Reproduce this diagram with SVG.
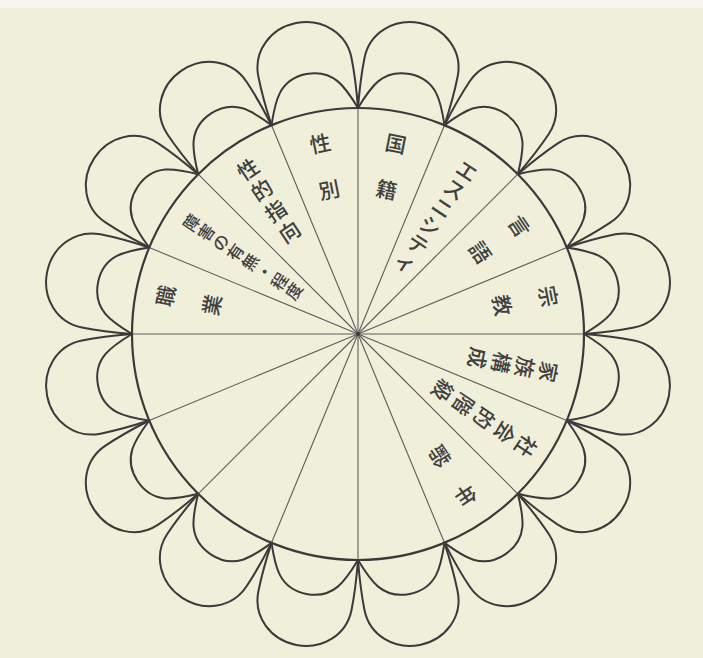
<svg xmlns="http://www.w3.org/2000/svg" xmlns:xlink="http://www.w3.org/1999/xlink" width="703" height="658" viewBox="0 0 703 658">
<style>
.pet{fill:none;stroke:#3a3a3a;stroke-width:2;stroke-linejoin:round}
.rim{fill:none;stroke:#3a3a3a;stroke-width:2.2}
.spk{stroke:#5c5c5c;stroke-width:1.1}
.lb{font-family:"Noto Sans CJK JP","Noto Sans CJK SC",sans-serif;font-size:21px;font-weight:500;fill:#404040;text-anchor:middle;dominant-baseline:central}
.sm{font-size:16.5px}
</style>
<defs>
<g id="petalShape">
<path class="pet" d="M-44.1 -221.7 C-46.5 -242 -47.5 -258 -47.5 -272 C-47.5 -298 -26 -317 0 -317 C26 -317 47.5 -298 47.5 -272 C47.5 -258 46.5 -242 44.1 -221.7"/>
<path class="pet" d="M-44.1 -221.7 C-36 -244 -28 -265 0 -265 C28 -265 36 -244 44.1 -221.7"/>
</g>
</defs>
<rect width="703" height="658" fill="#f0efda"/>
<rect width="703" height="8" fill="#f6f6ee"/>
<g id="petals">
<g id="petal-1" transform="translate(358 334) rotate(11.25)"><use xlink:href="#petalShape"/></g>
<g id="petal-2" transform="translate(358 334) rotate(33.75)"><use xlink:href="#petalShape"/></g>
<g id="petal-3" transform="translate(358 334) rotate(56.25)"><use xlink:href="#petalShape"/></g>
<g id="petal-4" transform="translate(358 334) rotate(78.75)"><use xlink:href="#petalShape"/></g>
<g id="petal-5" transform="translate(358 334) rotate(101.25)"><use xlink:href="#petalShape"/></g>
<g id="petal-6" transform="translate(358 334) rotate(123.75)"><use xlink:href="#petalShape"/></g>
<g id="petal-7" transform="translate(358 334) rotate(146.25)"><use xlink:href="#petalShape"/></g>
<g id="petal-8" transform="translate(358 334) rotate(168.75)"><use xlink:href="#petalShape"/></g>
<g id="petal-9" transform="translate(358 334) rotate(191.25)"><use xlink:href="#petalShape"/></g>
<g id="petal-10" transform="translate(358 334) rotate(213.75)"><use xlink:href="#petalShape"/></g>
<g id="petal-11" transform="translate(358 334) rotate(236.25)"><use xlink:href="#petalShape"/></g>
<g id="petal-12" transform="translate(358 334) rotate(258.75)"><use xlink:href="#petalShape"/></g>
<g id="petal-13" transform="translate(358 334) rotate(281.25)"><use xlink:href="#petalShape"/></g>
<g id="petal-14" transform="translate(358 334) rotate(303.75)"><use xlink:href="#petalShape"/></g>
<g id="petal-15" transform="translate(358 334) rotate(326.25)"><use xlink:href="#petalShape"/></g>
<g id="petal-16" transform="translate(358 334) rotate(348.75)"><use xlink:href="#petalShape"/></g>
</g>
<g id="connectors" transform="translate(358 334)">
<line class="spk" x1="0" y1="0" x2="0" y2="-226"/>
<line class="spk" x1="0" y1="0" x2="0" y2="-226" transform="rotate(22.5)"/>
<line class="spk" x1="0" y1="0" x2="0" y2="-226" transform="rotate(45)"/>
<line class="spk" x1="0" y1="0" x2="0" y2="-226" transform="rotate(67.5)"/>
<line class="spk" x1="0" y1="0" x2="0" y2="-226" transform="rotate(90)"/>
<line class="spk" x1="0" y1="0" x2="0" y2="-226" transform="rotate(112.5)"/>
<line class="spk" x1="0" y1="0" x2="0" y2="-226" transform="rotate(135)"/>
<line class="spk" x1="0" y1="0" x2="0" y2="-226" transform="rotate(157.5)"/>
<line class="spk" x1="0" y1="0" x2="0" y2="-226" transform="rotate(180)"/>
<line class="spk" x1="0" y1="0" x2="0" y2="-226" transform="rotate(202.5)"/>
<line class="spk" x1="0" y1="0" x2="0" y2="-226" transform="rotate(225)"/>
<line class="spk" x1="0" y1="0" x2="0" y2="-226" transform="rotate(247.5)"/>
<line class="spk" x1="0" y1="0" x2="0" y2="-226" transform="rotate(270)"/>
<line class="spk" x1="0" y1="0" x2="0" y2="-226" transform="rotate(292.5)"/>
<line class="spk" x1="0" y1="0" x2="0" y2="-226" transform="rotate(315)"/>
<line class="spk" x1="0" y1="0" x2="0" y2="-226" transform="rotate(337.5)"/>
<circle cx="0" cy="0" r="2" fill="#3a3a3a"/>
</g>
<g id="hub"><circle class="rim" cx="358" cy="334" r="226"/></g>
<g id="label-kokuseki" class="lb">
<text transform="translate(396.0 142.7) rotate(11.25)">国</text>
<text transform="translate(386.9 188.8) rotate(11.25)">籍</text>
</g>
<g id="label-seibetsu" class="lb">
<text transform="translate(320.0 142.7) rotate(-11.25)">性</text>
<text transform="translate(329.1 188.8) rotate(-11.25)">別</text>
</g>
<g id="label-seitekishikou" class="lb">
<text transform="translate(247.4 168.5) rotate(-33.75)">性</text>
<text transform="translate(261.3 189.3) rotate(-33.75)">的</text>
<text transform="translate(275.2 210.1) rotate(-33.75)">指</text>
<text transform="translate(289.1 230.9) rotate(-33.75)">向</text>
</g>
<g id="label-shougai" class="lb sm">
<text transform="translate(190.9 222.3) rotate(-56.25)">障</text>
<text transform="translate(205.5 232.1) rotate(-56.25)">害</text>
<text transform="translate(220.1 241.9) rotate(-56.25)">の</text>
<text transform="translate(234.8 251.7) rotate(-56.25)">有</text>
<text transform="translate(249.4 261.4) rotate(-56.25)">無</text>
<text transform="translate(264.0 271.2) rotate(-56.25)">・</text>
<text transform="translate(278.7 281.0) rotate(-56.25)">程</text>
<text transform="translate(293.3 290.8) rotate(-56.25)">度</text>
</g>
<g id="label-shokugyou" class="lb">
<text transform="translate(164.8 295.6) rotate(-78.75)">職</text>
<text transform="translate(210.9 304.7) rotate(-78.75)">業</text>
</g>
<g id="label-ethnicity" class="lb">
<text transform="translate(467.4 170.2) rotate(33.75)">エ</text>
<text transform="translate(455.2 188.5) rotate(33.75)">ス</text>
<text transform="translate(443.0 206.8) rotate(33.75)">ニ</text>
<text transform="translate(430.8 225.1) rotate(33.75)">シ</text>
<text transform="translate(418.6 243.4) rotate(33.75)">テ</text>
<text transform="translate(406.3 261.7) rotate(33.75)">ィ</text>
</g>
<g id="label-gengo" class="lb">
<text transform="translate(520.1 225.7) rotate(56.25)">言</text>
<text transform="translate(481.1 251.8) rotate(56.25)">語</text>
</g>
<g id="label-shuukyou" class="lb">
<text transform="translate(549.3 296.0) rotate(78.75)">宗</text>
<text transform="translate(503.2 305.1) rotate(78.75)">教</text>
</g>
<g id="label-kazoku" class="lb">
<text transform="translate(549.3 372.0) rotate(101.25)">家</text>
<text transform="translate(525.7 367.4) rotate(101.25)">族</text>
<text transform="translate(502.2 362.7) rotate(101.25)">構</text>
<text transform="translate(478.6 358.0) rotate(101.25)">成</text>
</g>
<g id="label-kaikyuu" class="lb">
<text transform="translate(526.8 446.8) rotate(123.75)">社</text>
<text transform="translate(506.0 432.9) rotate(123.75)">会</text>
<text transform="translate(485.2 419.0) rotate(123.75)">的</text>
<text transform="translate(464.4 405.1) rotate(123.75)">階</text>
<text transform="translate(443.6 391.2) rotate(123.75)">級</text>
</g>
<g id="label-nenrei" class="lb">
<text transform="translate(466.3 496.1) rotate(146.25)">年</text>
<text transform="translate(440.2 457.1) rotate(146.25)">齢</text>
</g>
</svg>
